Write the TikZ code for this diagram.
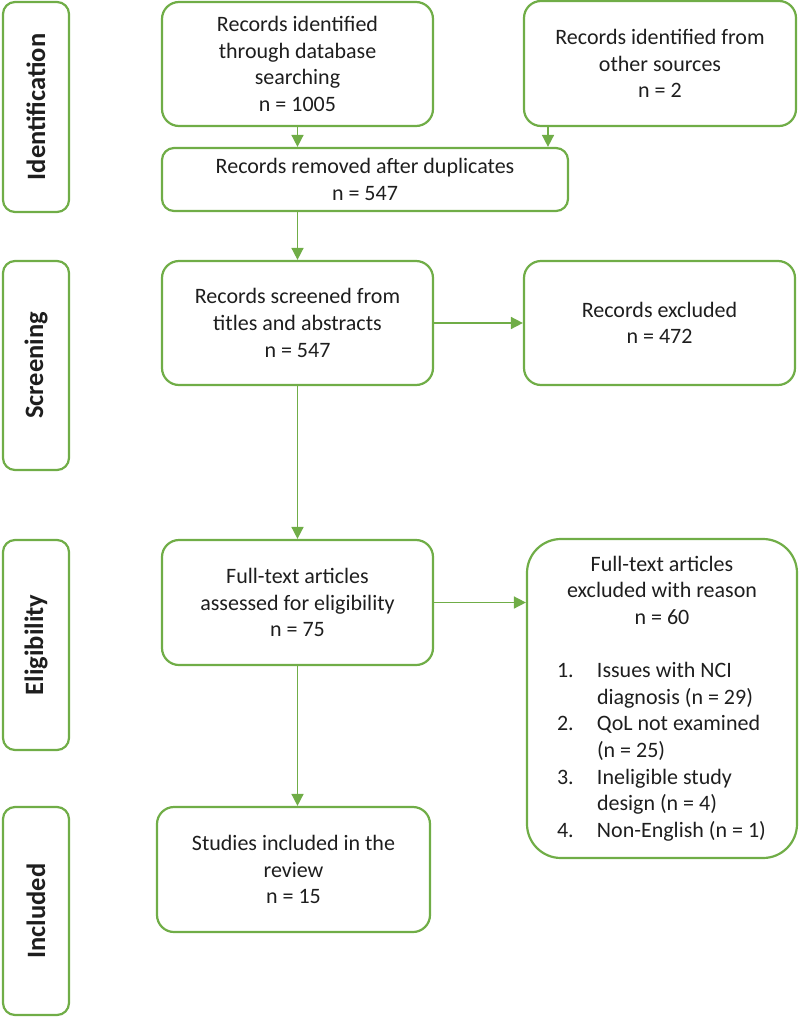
\documentclass[tikz,border=0pt]{standalone}
\usepackage{fontspec}
\setmainfont{Carlito}
\usetikzlibrary{arrows.meta}
\definecolor{pgreen}{HTML}{70AD47}
\definecolor{ptext}{HTML}{1E1E1E}
\begin{document}
\begin{tikzpicture}[x=1pt,y=-1pt,
  box/.style={draw=pgreen,line width=2.2pt,rounded corners=17pt,inner sep=0pt,
    align=center,text=ptext,font=\fontsize{22}{26.6}\selectfont},
  phase/.style={draw=pgreen,line width=2.2pt,rounded corners=12pt,inner sep=0pt,
    rotate=90,minimum height=66pt,text=ptext,font=\fontsize{26.5}{30}\selectfont\bfseries},
  flow/.style={draw=pgreen,line width=1.6pt,-{Triangle[length=12pt,width=12pt]}}]
\useasboundingbox (0,0) rectangle (800,1017);
% phase labels
\node[phase,minimum width=210pt] (lid) at (36,107) {Identification};
\node[phase,minimum width=209pt] (lsc) at (36,365.5) {Screening};
\node[phase,minimum width=210pt] (lel) at (36,645) {Eligibility};
\node[phase,minimum width=208pt] (lin) at (36,911) {Included};
% boxes
\node[box,minimum width=271pt,minimum height=124pt] (db) at (297.5,64)
  {Records identified\\through database\\searching\\n = 1005};
\node[box,minimum width=272pt,minimum height=125pt] (oth) at (660,63.5)
  {Records identified from\\other sources\\n = 2};
\node[box,rounded corners=12pt,minimum width=406pt,minimum height=63pt] (rem) at (365,179.5)
  {Records removed after duplicates\\n = 547};
\node[box,minimum width=271pt,minimum height=124pt] (scr) at (297.5,323)
  {Records screened from\\titles and abstracts\\n = 547};
\node[box,minimum width=271pt,minimum height=124pt] (exc) at (659.5,323)
  {Records excluded\\n = 472};
\node[box,minimum width=271pt,minimum height=125pt] (ass) at (297.5,602.5)
  {Full-text articles\\assessed for eligibility\\n = 75};
\node[box,rounded corners=34pt,minimum width=270pt,minimum height=319pt] (fex) at (662,698.5)
  {Full-text articles\\excluded with reason\\n = 60\\[26.6pt]
   \makebox[270pt][l]{\hspace{30pt}\makebox[40pt][l]{1.}Issues with NCI}\\
   \makebox[270pt][l]{\hspace{70pt}diagnosis (n = 29)}\\
   \makebox[270pt][l]{\hspace{30pt}\makebox[40pt][l]{2.}QoL not examined}\\
   \makebox[270pt][l]{\hspace{70pt}(n = 25)}\\
   \makebox[270pt][l]{\hspace{30pt}\makebox[40pt][l]{3.}Ineligible study}\\
   \makebox[270pt][l]{\hspace{70pt}design (n = 4)}\\
   \makebox[270pt][l]{\hspace{30pt}\makebox[40pt][l]{4.}Non-English (n = 1)}};
\node[box,minimum width=273pt,minimum height=125pt] (stu) at (293.5,869.5)
  {Studies included in the\\review\\n = 15};
% connectors
\coordinate (othout) at (548,126);
\draw[flow] (db.south) -- (db.south |- rem.north);
\draw[flow] (oth.south -| othout) -- (othout |- rem.north);
\draw[flow] (rem.south -| scr.north) -- (scr.north);
\draw[flow] (scr.east) -- (exc.west);
\draw[flow] (scr.south) -- (ass.north);
\draw[flow] (ass.east) -- (ass.east -| fex.west);
\draw[flow] (ass.south) -- (ass.south |- stu.north);
\end{tikzpicture}
\end{document}
